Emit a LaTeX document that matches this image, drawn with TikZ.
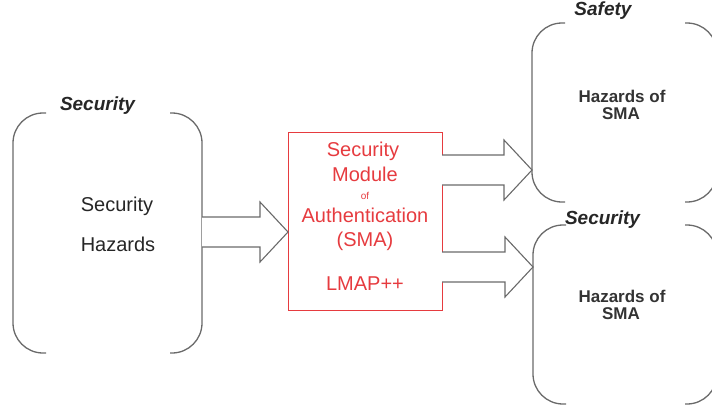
\documentclass[tikz,border=0pt]{standalone}
\usepackage{fontspec}
\setmainfont{Liberation Sans}
\usetikzlibrary{calc}

\definecolor{boxgray}{HTML}{6A6A6A}
\definecolor{smared}{HTML}{E63B3F}

% open bracket box drawn round an empty node
\newcommand{\bracketbox}[1]{%
  \draw[bracket] ($(#1.north west)+(33,0)$) -- (#1.north west) -- (#1.south west) -- ($(#1.south west)+(33,0)$);
  \draw[bracket] ($(#1.north east)+(-32,0)$) -- (#1.north east) -- (#1.south east) -- ($(#1.south east)+(-32,0)$);}

% wide hollow arrow from #1 to #2
\newcommand{\blockarrow}[2]{%
  \draw[arrowline] ($(#1)+(0,-15)$) -- ($(#2)+(-28,-15)$) -- ($(#2)+(-28,-30)$) -- (#2)
    -- ($(#2)+(-28,30)$) -- ($(#2)+(-28,15)$) -- ($(#1)+(0,15)$);}

\begin{document}
\begin{tikzpicture}[x=1pt, y=-1pt,
                hazbox/.style={rectangle, inner sep=0pt, outer sep=0pt},
                bracket/.style={draw=boxgray, line width=1.3pt, rounded corners=30pt},
                arrowline/.style={draw=boxgray, line width=1.1pt, fill=white},
                smabox/.style={rectangle, draw=smared, line width=1pt, inner sep=0pt, outer sep=0pt,
                               minimum width=154, minimum height=178},
                hazlabel/.style={anchor=base, font=\bfseries\itshape\fontsize{19}{22}\selectfont, text=black!85},
                hazardtext/.style={anchor=base, font=\fontsize{20}{24}\selectfont, text=black!85},
                smahaz/.style={anchor=base, inner sep=0.5pt, font=\bfseries\fontsize{17}{15}\selectfont, text=black!80},
                smatext/.style={anchor=base, font=\fontsize{20}{24}\selectfont, text=smared}]

        \clip (0,0) rectangle (712,405);

        % Define nodes
        \node[hazbox, minimum width=189, minimum height=240] (secbox) at (107.5,233) {}; % Security hazards
        \node[hazbox, minimum width=185, minimum height=179] (safbox) at (624.5,112.5) {}; % Safety
        \node[hazbox, minimum width=184, minimum height=179] (smabox2) at (625,314.5) {}; % Security of SMA
        \node[smabox] (sma) at (365,221) {}; % Module

        % Define labels
        \node[hazlabel] (seclabel) at (97.5,110) {Security};
        \node[hazlabel] (saflabel) at (603,15) {Safety};
        \node[hazlabel] (seclabel2) at (602.5,224) {Security};

        \node[hazardtext] (sechaz1) at (117,211) {Security};
        \node[hazardtext] (sechaz2) at (118,251) {Hazards};

        \node[smatext] (sma1) at (363,156) {Security};
        \node[smatext] (sma2) at (365,181.5) {Module};
        \node[smatext, font=\fontsize{10}{12}\selectfont] (sma3) at (365,199) {of};
        \node[smatext] (sma4) at (365,222) {Authentication};
        \node[smatext] (sma5) at (365,246) {(SMA)};
        \node[smatext] (sma6) at (365,290) {LMAP++};

        \node[smahaz] (saf1) at (622,102) {Hazards of};
        \node[smahaz] (saf2) at (621,119) {SMA};
        \node[smahaz] (sec1) at (622,302) {Hazards of};
        \node[smahaz] (sec2) at (621,319) {SMA};

        % Define boxes
        \bracketbox{secbox}
        \bracketbox{safbox}
        \bracketbox{smabox2}

        % Define arrows
        \coordinate (a1s) at (secbox.east |- 0,232);
        \coordinate (a1e) at (sma.west |- a1s);
        \coordinate (a2s) at (sma.east |- 0,170);
        \coordinate (a2e) at (safbox.west |- a2s);
        \coordinate (a3s) at (sma.east |- 0,267);
        \coordinate (a3e) at (smabox2.west |- a3s);
        \blockarrow{a1s}{a1e}
        \blockarrow{a2s}{a2e}
        \blockarrow{a3s}{a3e}
\end{tikzpicture}
\end{document}
